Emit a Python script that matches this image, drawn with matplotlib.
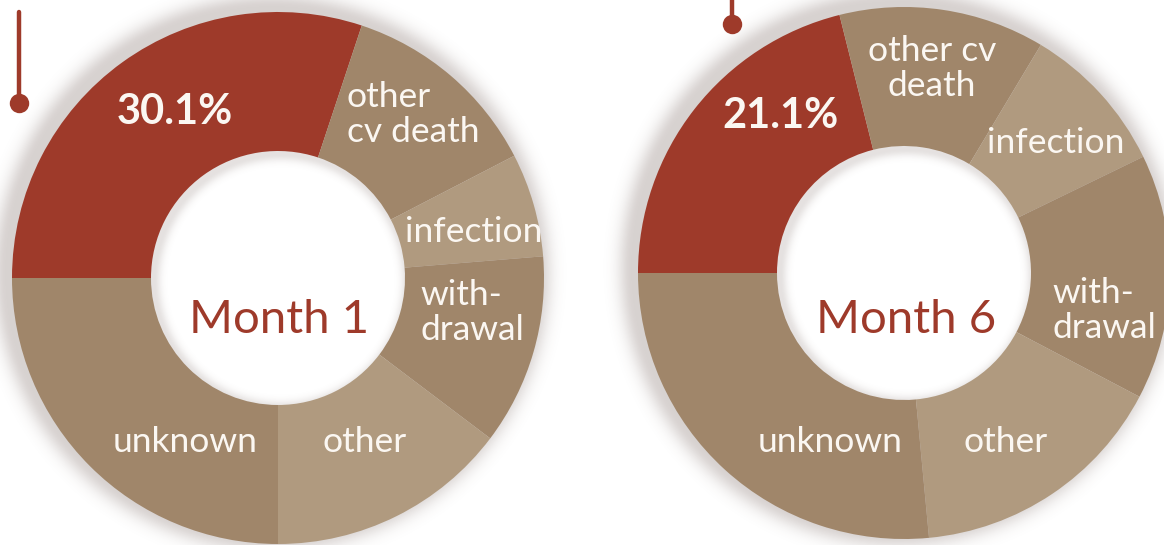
import numpy as np
import matplotlib
matplotlib.use("Agg")
import matplotlib.pyplot as plt

W, H = 1164, 545

# Share of deaths by cause (percent), clockwise from 9 o'clock
causes = ["death", "other cv death", "infection", "withdrawal", "other", "unknown"]
month1_share = [30.1, 12.3, 6.3, 11.6, 14.7, 25.0]
month6_share = [21.1, 12.5, 9.2, 14.9, 15.8, 26.5]
panel_titles = ["Month 1", "Month 6"]
month1_labels = ["other\ncv death", "infection", "with-\ndrawal", "other", "unknown"]
month6_labels = ["other cv\ndeath", "infection", "with-\ndrawal", "other", "unknown"]

RED = "#9E3A2A"
DARK = "#A0866A"
LIGHT = "#B09A7F"
TEXT = "#FBF7F2"
wedge_colors = [RED, DARK, LIGHT, DARK, LIGHT, DARK]

plt.rcParams["font.family"] = ["Lato", "DejaVu Sans"]

fig = plt.figure(figsize=(W / 100, H / 100), dpi=100)
ax = fig.add_axes([0, 0, 1, 1])


def Y(y):
    """Convert a top-down pixel row to the axes' upward y."""
    return H - y


# layout of each donut: centre, radii, and label anchors (x, last baseline, ha)
panels = [
    dict(values=month1_share, labels=month1_labels, title=panel_titles[0],
         center=(278, 278), r=266, r_in=127,
         pct_pos=(175, 124), title_pos=(279, 333),
         label_pos=[(347, 142, "left"), (474, 242, "center"), (420, 340, "left"),
                    (365, 452, "center"), (185, 452, "center")],
         pin=(19, 12, 103)),
    dict(values=month6_share, labels=month6_labels, title=panel_titles[1],
         center=(904, 273), r=266, r_in=127,
         pct_pos=(780, 128), title_pos=(906, 333),
         label_pos=[(932, 96, "center"), (1056, 153, "center"), (1052, 338, "left"),
                    (1006, 452, "center"), (830, 452, "center")],
         pin=(732, -5, 24)),
]

# soft shadow around each ring and just inside its hole
xs = np.arange(W) + 0.5
ys = np.arange(H) + 0.5
gx, gy = np.meshgrid(xs, ys)
alpha = np.zeros((H, W))
for p in panels:
    cx, cy = p["center"][0], Y(p["center"][1])
    d_out = np.hypot(gx - (cx - 6), gy - (cy + 5))
    t = np.clip(d_out - p["r"], 0, None)
    a_out = 0.24 * np.exp(-(t ** 2) / (2 * 10.0 ** 2))
    a_out[d_out < p["r"] - 4] = 0.24
    d_in = np.hypot(gx - (cx + 3), gy - (cy - 3))
    t_in = np.clip(p["r_in"] - d_in, 0, None)
    a_in = 0.16 * np.exp(-(t_in ** 2) / (2 * 5.0 ** 2))
    a_in[d_in > p["r_in"] + 2] = 0.16
    alpha = np.maximum(alpha, np.minimum(a_out, np.where(d_in < p["r_in"] + 6, a_in, 1.0)))
shadow = np.zeros((H, W, 4))
shadow[..., 0] = 0.36
shadow[..., 1] = 0.27
shadow[..., 2] = 0.24
shadow[..., 3] = alpha
ax.imshow(shadow, extent=(0, W, 0, H), origin="lower", zorder=0, interpolation="bilinear")

for p in panels:
    cx, cy = p["center"][0], Y(p["center"][1])
    ax.pie(p["values"], colors=wedge_colors, startangle=180, counterclock=False,
           center=(cx, cy), radius=p["r"],
           wedgeprops=dict(width=p["r"] - p["r_in"], linewidth=0, antialiased=True))

    # percentage of the highlighted cause
    ax.text(p["pct_pos"][0], Y(p["pct_pos"][1]), f"{p['values'][0]:.1f}%",
            color=TEXT, fontsize=30, fontweight="bold", ha="center", va="baseline", zorder=5)

    # month name in the hole
    ax.text(p["title_pos"][0], Y(p["title_pos"][1]), p["title"], color=RED,
            fontsize=34, ha="center", va="baseline", zorder=5)

    for lab, (lx, ly, ha) in zip(p["labels"], p["label_pos"]):
        ax.text(lx, Y(ly), lab, color=TEXT, fontsize=25.5, ha=ha, va="baseline",
                multialignment=ha, linespacing=1.13, zorder=5)

    # pin marker: vertical stem ending in a dot
    px, y0, y1 = p["pin"]
    ax.plot([px, px], [Y(y0), Y(y1)], color=RED, lw=3.2, solid_capstyle="round", zorder=6)
    ax.plot([px], [Y(y1)], marker="o", ms=14, color=RED, mew=0, zorder=6)

ax.set_xlim(0, W)
ax.set_ylim(0, H)
ax.set_aspect("auto")
ax.axis("off")

fig.savefig("out.png", dpi=100, facecolor="white")
